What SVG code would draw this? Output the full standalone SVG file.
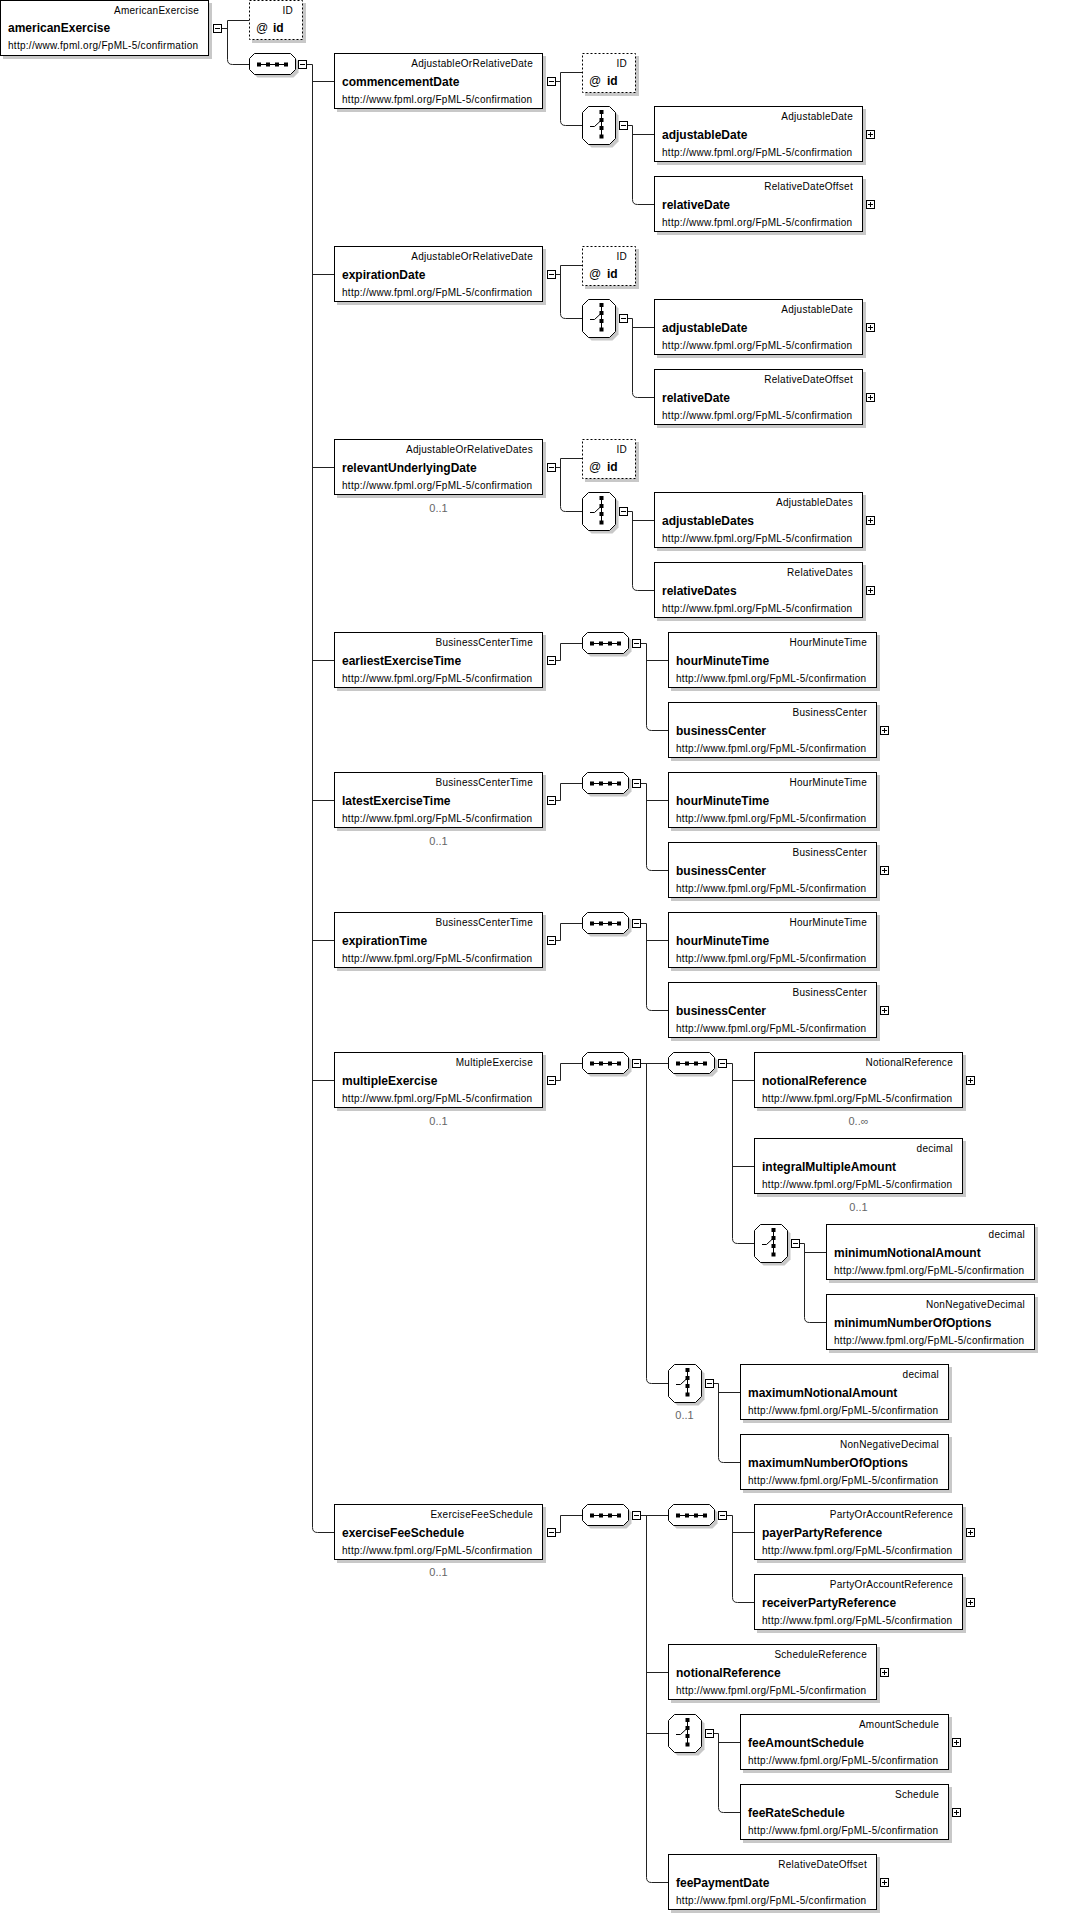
<svg xmlns="http://www.w3.org/2000/svg" width="1076" height="1916" viewBox="0 0 1076 1916">
<style>
.s{fill:#c8c8c8}
.b{fill:#fff;stroke:#000;stroke-width:1}
.a{fill:#fff;stroke:#000;stroke-width:1;stroke-dasharray:2 2}
.ln{fill:none;stroke:#222;stroke-width:1}
text{font-family:"Liberation Sans",Arial,sans-serif;fill:#000}
.t{font-size:10px;letter-spacing:0.28px;text-anchor:end}
.n{font-size:12px;font-weight:bold}
.u{font-size:10px;letter-spacing:0.28px}
.at{font-size:12px}
.o{font-size:11px;fill:#666;text-anchor:middle}
</style>
<defs>
<g id="mi"><rect x="0.5" y="0.5" width="8" height="8" fill="#fff" stroke="#000"/><path d="M2,4.5H7" stroke="#000"/></g>
<g id="pl"><rect x="0.5" y="0.5" width="8" height="8" fill="#fff" stroke="#000"/><path d="M2,4.5H7M4.5,2V7" stroke="#000"/></g>
<g id="seq">
<polygon points="8.5,3.5 44.5,3.5 49.5,8.5 49.5,19.5 44.5,24.5 8.5,24.5 3.5,19.5 3.5,8.5" fill="#c8c8c8"/>
<polygon points="5.5,0.5 41.5,0.5 46.5,5.5 46.5,16.5 41.5,21.5 5.5,21.5 0.5,16.5 0.5,5.5" fill="#fff" stroke="#000"/>
<path d="M8,11.5H39" stroke="#000"/>
<rect x="8" y="9.5" width="4" height="4"/><rect x="17" y="9.5" width="4" height="4"/><rect x="26" y="9.5" width="4" height="4"/><rect x="35" y="9.5" width="4" height="4"/>
</g>
<g id="cho">
<polygon points="9.5,3.5 30.5,3.5 36.5,9.5 36.5,35.5 30.5,41.5 9.5,41.5 3.5,35.5 3.5,9.5" fill="#c8c8c8"/>
<polygon points="6.5,0.5 27.5,0.5 33.5,6.5 33.5,32.5 27.5,38.5 6.5,38.5 0.5,32.5 0.5,6.5" fill="#fff" stroke="#000"/>
<path d="M19.5,6V31M8,20.5H12.5L19.5,14" fill="none" stroke="#000"/>
<rect x="17.5" y="4" width="4" height="4"/><rect x="17.5" y="12" width="4" height="4"/><rect x="17.5" y="20" width="4" height="4"/><rect x="17.5" y="28.5" width="4" height="4"/>
</g>
</defs>
<rect width="1076" height="1916" fill="#fff"/>

<g id="connectors">
<path class="ln" d="M222,28.5H227.5M227.5,20.5H249M227.5,20.5V59.5Q227.5,64.5 232.5,64.5H249"/>
<path class="ln" d="M307,64.5H312.5V1527.5Q312.5,1532.5 317.5,1532.5H334M312.5,81.5H334M312.5,274.5H334M312.5,467.5H334M312.5,660.5H334M312.5,800.5H334M312.5,940.5H334M312.5,1080.5H334"/>
<path class="ln" d="M556,81.5H560.5M560.5,72.5H582M560.5,72.5V120.5Q560.5,125.5 565.5,125.5H582M628,125.5H632.5V199.5Q632.5,204.5 637.5,204.5H654M632.5,134.5H654"/>
<path class="ln" d="M556,274.5H560.5M560.5,265.5H582M560.5,265.5V313.5Q560.5,318.5 565.5,318.5H582M628,318.5H632.5V392.5Q632.5,397.5 637.5,397.5H654M632.5,327.5H654"/>
<path class="ln" d="M556,467.5H560.5M560.5,458.5H582M560.5,458.5V506.5Q560.5,511.5 565.5,511.5H582M628,511.5H632.5V585.5Q632.5,590.5 637.5,590.5H654M632.5,520.5H654"/>
<path class="ln" d="M556,660.5H560.5V643.5H582M641,643.5H646.5V725.5Q646.5,730.5 651.5,730.5H668M646.5,660.5H668"/>
<path class="ln" d="M556,800.5H560.5V783.5H582M641,783.5H646.5V865.5Q646.5,870.5 651.5,870.5H668M646.5,800.5H668"/>
<path class="ln" d="M556,940.5H560.5V923.5H582M641,923.5H646.5V1005.5Q646.5,1010.5 651.5,1010.5H668M646.5,940.5H668"/>
<path class="ln" d="M556,1080.5H560.5V1063.5H582M641,1063.5H668M646.5,1063.5V1378.5Q646.5,1383.5 651.5,1383.5H668M727,1063.5H732.5V1238.5Q732.5,1243.5 737.5,1243.5H754M732.5,1080.5H754M732.5,1166.5H754M800,1243.5H804.5V1317.5Q804.5,1322.5 809.5,1322.5H826M804.5,1252.5H826M714,1383.5H718.5V1457.5Q718.5,1462.5 723.5,1462.5H740M718.5,1392.5H740"/>
<path class="ln" d="M556,1532.5H560.5V1515.5H582M641,1515.5H668M646.5,1515.5V1877.5Q646.5,1882.5 651.5,1882.5H668M646.5,1672.5H668M646.5,1733.5H668M727,1515.5H732.5V1597.5Q732.5,1602.5 737.5,1602.5H754M732.5,1532.5H754M714,1733.5H718.5V1807.5Q718.5,1812.5 723.5,1812.5H740M718.5,1742.5H740"/>
</g>

<g id="americanExercise">
<rect class="s" x="3" y="3" width="209" height="56"/><rect class="b" x="0.5" y="0.5" width="208" height="55"/>
<text class="t" x="199" y="14">AmericanExercise</text><text class="n" x="8" y="32">americanExercise</text><text class="u" x="8" y="49">http://www.fpml.org/FpML-5/confirmation</text>
<use href="#mi" x="213" y="24"/>
</g>
<g id="americanExercise-id">
<rect class="s" x="252" y="3" width="54" height="40"/><rect class="a" x="249.5" y="0.5" width="53" height="39"/>
<text class="t" x="293" y="14">ID</text><text class="at" x="256" y="32">@</text><text class="n" x="273" y="32">id</text>
</g>
<g id="seq-main"><use href="#seq" x="249" y="53"/><use href="#mi" x="298" y="60"/></g>

<g id="commencementDate">
<rect class="s" x="337" y="56" width="209" height="56"/><rect class="b" x="334.5" y="53.5" width="208" height="55"/>
<text class="t" x="533" y="67">AdjustableOrRelativeDate</text><text class="n" x="342" y="86">commencementDate</text><text class="u" x="342" y="103">http://www.fpml.org/FpML-5/confirmation</text>
<use href="#mi" x="547" y="77"/>
</g>
<g id="commencementDate-id">
<rect class="s" x="585" y="56" width="54" height="40"/><rect class="a" x="582.5" y="53.5" width="53" height="39"/>
<text class="t" x="627" y="67">ID</text><text class="at" x="589" y="85">@</text><text class="n" x="607" y="85">id</text>
</g>
<g id="commencementDate-choice"><use href="#cho" x="582" y="106"/><use href="#mi" x="619" y="121"/></g>
<g id="commencementDate-adjustableDate">
<rect class="s" x="657" y="109" width="209" height="56"/><rect class="b" x="654.5" y="106.5" width="208" height="55"/>
<text class="t" x="853" y="120">AdjustableDate</text><text class="n" x="662" y="139">adjustableDate</text><text class="u" x="662" y="156">http://www.fpml.org/FpML-5/confirmation</text>
<use href="#pl" x="866" y="130"/>
</g>
<g id="commencementDate-relativeDate">
<rect class="s" x="657" y="179" width="209" height="56"/><rect class="b" x="654.5" y="176.5" width="208" height="55"/>
<text class="t" x="853" y="190">RelativeDateOffset</text><text class="n" x="662" y="209">relativeDate</text><text class="u" x="662" y="226">http://www.fpml.org/FpML-5/confirmation</text>
<use href="#pl" x="866" y="200"/>
</g>

<g id="expirationDate">
<rect class="s" x="337" y="249" width="209" height="56"/><rect class="b" x="334.5" y="246.5" width="208" height="55"/>
<text class="t" x="533" y="260">AdjustableOrRelativeDate</text><text class="n" x="342" y="279">expirationDate</text><text class="u" x="342" y="296">http://www.fpml.org/FpML-5/confirmation</text>
<use href="#mi" x="547" y="270"/>
</g>
<g id="expirationDate-id">
<rect class="s" x="585" y="249" width="54" height="40"/><rect class="a" x="582.5" y="246.5" width="53" height="39"/>
<text class="t" x="627" y="260">ID</text><text class="at" x="589" y="278">@</text><text class="n" x="607" y="278">id</text>
</g>
<g id="expirationDate-choice"><use href="#cho" x="582" y="299"/><use href="#mi" x="619" y="314"/></g>
<g id="expirationDate-adjustableDate">
<rect class="s" x="657" y="302" width="209" height="56"/><rect class="b" x="654.5" y="299.5" width="208" height="55"/>
<text class="t" x="853" y="313">AdjustableDate</text><text class="n" x="662" y="332">adjustableDate</text><text class="u" x="662" y="349">http://www.fpml.org/FpML-5/confirmation</text>
<use href="#pl" x="866" y="323"/>
</g>
<g id="expirationDate-relativeDate">
<rect class="s" x="657" y="372" width="209" height="56"/><rect class="b" x="654.5" y="369.5" width="208" height="55"/>
<text class="t" x="853" y="383">RelativeDateOffset</text><text class="n" x="662" y="402">relativeDate</text><text class="u" x="662" y="419">http://www.fpml.org/FpML-5/confirmation</text>
<use href="#pl" x="866" y="393"/>
</g>

<g id="relevantUnderlyingDate">
<rect class="s" x="337" y="442" width="209" height="56"/><rect class="b" x="334.5" y="439.5" width="208" height="55"/>
<text class="t" x="533" y="453">AdjustableOrRelativeDates</text><text class="n" x="342" y="472">relevantUnderlyingDate</text><text class="u" x="342" y="489">http://www.fpml.org/FpML-5/confirmation</text>
<use href="#mi" x="547" y="463"/>
<text class="o" x="438.5" y="512">0..1</text>
</g>
<g id="relevantUnderlyingDate-id">
<rect class="s" x="585" y="442" width="54" height="40"/><rect class="a" x="582.5" y="439.5" width="53" height="39"/>
<text class="t" x="627" y="453">ID</text><text class="at" x="589" y="471">@</text><text class="n" x="607" y="471">id</text>
</g>
<g id="relevantUnderlyingDate-choice"><use href="#cho" x="582" y="492"/><use href="#mi" x="619" y="507"/></g>
<g id="adjustableDates">
<rect class="s" x="657" y="495" width="209" height="56"/><rect class="b" x="654.5" y="492.5" width="208" height="55"/>
<text class="t" x="853" y="506">AdjustableDates</text><text class="n" x="662" y="525">adjustableDates</text><text class="u" x="662" y="542">http://www.fpml.org/FpML-5/confirmation</text>
<use href="#pl" x="866" y="516"/>
</g>
<g id="relativeDates">
<rect class="s" x="657" y="565" width="209" height="56"/><rect class="b" x="654.5" y="562.5" width="208" height="55"/>
<text class="t" x="853" y="576">RelativeDates</text><text class="n" x="662" y="595">relativeDates</text><text class="u" x="662" y="612">http://www.fpml.org/FpML-5/confirmation</text>
<use href="#pl" x="866" y="586"/>
</g>

<g id="earliestExerciseTime">
<rect class="s" x="337" y="635" width="209" height="56"/><rect class="b" x="334.5" y="632.5" width="208" height="55"/>
<text class="t" x="533" y="646">BusinessCenterTime</text><text class="n" x="342" y="665">earliestExerciseTime</text><text class="u" x="342" y="682">http://www.fpml.org/FpML-5/confirmation</text>
<use href="#mi" x="547" y="656"/>
</g>
<g id="earliestExerciseTime-seq"><use href="#seq" x="582" y="632"/><use href="#mi" x="632" y="639"/></g>
<g id="earliestExerciseTime-hourMinuteTime">
<rect class="s" x="671" y="635" width="209" height="56"/><rect class="b" x="668.5" y="632.5" width="208" height="55"/>
<text class="t" x="867" y="646">HourMinuteTime</text><text class="n" x="676" y="665">hourMinuteTime</text><text class="u" x="676" y="682">http://www.fpml.org/FpML-5/confirmation</text>
</g>
<g id="earliestExerciseTime-businessCenter">
<rect class="s" x="671" y="705" width="209" height="56"/><rect class="b" x="668.5" y="702.5" width="208" height="55"/>
<text class="t" x="867" y="716">BusinessCenter</text><text class="n" x="676" y="735">businessCenter</text><text class="u" x="676" y="752">http://www.fpml.org/FpML-5/confirmation</text>
<use href="#pl" x="880" y="726"/>
</g>

<g id="latestExerciseTime">
<rect class="s" x="337" y="775" width="209" height="56"/><rect class="b" x="334.5" y="772.5" width="208" height="55"/>
<text class="t" x="533" y="786">BusinessCenterTime</text><text class="n" x="342" y="805">latestExerciseTime</text><text class="u" x="342" y="822">http://www.fpml.org/FpML-5/confirmation</text>
<use href="#mi" x="547" y="796"/>
<text class="o" x="438.5" y="845">0..1</text>
</g>
<g id="latestExerciseTime-seq"><use href="#seq" x="582" y="772"/><use href="#mi" x="632" y="779"/></g>
<g id="latestExerciseTime-hourMinuteTime">
<rect class="s" x="671" y="775" width="209" height="56"/><rect class="b" x="668.5" y="772.5" width="208" height="55"/>
<text class="t" x="867" y="786">HourMinuteTime</text><text class="n" x="676" y="805">hourMinuteTime</text><text class="u" x="676" y="822">http://www.fpml.org/FpML-5/confirmation</text>
</g>
<g id="latestExerciseTime-businessCenter">
<rect class="s" x="671" y="845" width="209" height="56"/><rect class="b" x="668.5" y="842.5" width="208" height="55"/>
<text class="t" x="867" y="856">BusinessCenter</text><text class="n" x="676" y="875">businessCenter</text><text class="u" x="676" y="892">http://www.fpml.org/FpML-5/confirmation</text>
<use href="#pl" x="880" y="866"/>
</g>

<g id="expirationTime">
<rect class="s" x="337" y="915" width="209" height="56"/><rect class="b" x="334.5" y="912.5" width="208" height="55"/>
<text class="t" x="533" y="926">BusinessCenterTime</text><text class="n" x="342" y="945">expirationTime</text><text class="u" x="342" y="962">http://www.fpml.org/FpML-5/confirmation</text>
<use href="#mi" x="547" y="936"/>
</g>
<g id="expirationTime-seq"><use href="#seq" x="582" y="912"/><use href="#mi" x="632" y="919"/></g>
<g id="expirationTime-hourMinuteTime">
<rect class="s" x="671" y="915" width="209" height="56"/><rect class="b" x="668.5" y="912.5" width="208" height="55"/>
<text class="t" x="867" y="926">HourMinuteTime</text><text class="n" x="676" y="945">hourMinuteTime</text><text class="u" x="676" y="962">http://www.fpml.org/FpML-5/confirmation</text>
</g>
<g id="expirationTime-businessCenter">
<rect class="s" x="671" y="985" width="209" height="56"/><rect class="b" x="668.5" y="982.5" width="208" height="55"/>
<text class="t" x="867" y="996">BusinessCenter</text><text class="n" x="676" y="1015">businessCenter</text><text class="u" x="676" y="1032">http://www.fpml.org/FpML-5/confirmation</text>
<use href="#pl" x="880" y="1006"/>
</g>

<g id="multipleExercise">
<rect class="s" x="337" y="1055" width="209" height="56"/><rect class="b" x="334.5" y="1052.5" width="208" height="55"/>
<text class="t" x="533" y="1066">MultipleExercise</text><text class="n" x="342" y="1085">multipleExercise</text><text class="u" x="342" y="1102">http://www.fpml.org/FpML-5/confirmation</text>
<use href="#mi" x="547" y="1076"/>
<text class="o" x="438.5" y="1125">0..1</text>
</g>
<g id="multipleExercise-seq"><use href="#seq" x="582" y="1052"/><use href="#mi" x="632" y="1059"/></g>
<g id="multipleExercise-seq2"><use href="#seq" x="668" y="1052"/><use href="#mi" x="718" y="1059"/></g>
<g id="multipleExercise-notionalReference">
<rect class="s" x="757" y="1055" width="209" height="56"/><rect class="b" x="754.5" y="1052.5" width="208" height="55"/>
<text class="t" x="953" y="1066">NotionalReference</text><text class="n" x="762" y="1085">notionalReference</text><text class="u" x="762" y="1102">http://www.fpml.org/FpML-5/confirmation</text>
<use href="#pl" x="966" y="1076"/>
<text class="o" x="858.5" y="1125">0..∞</text>
</g>
<g id="integralMultipleAmount">
<rect class="s" x="757" y="1141" width="209" height="56"/><rect class="b" x="754.5" y="1138.5" width="208" height="55"/>
<text class="t" x="953" y="1152">decimal</text><text class="n" x="762" y="1171">integralMultipleAmount</text><text class="u" x="762" y="1188">http://www.fpml.org/FpML-5/confirmation</text>
<text class="o" x="858.5" y="1211">0..1</text>
</g>
<g id="minimum-choice"><use href="#cho" x="754" y="1224"/><use href="#mi" x="791" y="1239"/></g>
<g id="minimumNotionalAmount">
<rect class="s" x="829" y="1227" width="209" height="56"/><rect class="b" x="826.5" y="1224.5" width="208" height="55"/>
<text class="t" x="1025" y="1238">decimal</text><text class="n" x="834" y="1257">minimumNotionalAmount</text><text class="u" x="834" y="1274">http://www.fpml.org/FpML-5/confirmation</text>
</g>
<g id="minimumNumberOfOptions">
<rect class="s" x="829" y="1297" width="209" height="56"/><rect class="b" x="826.5" y="1294.5" width="208" height="55"/>
<text class="t" x="1025" y="1308">NonNegativeDecimal</text><text class="n" x="834" y="1327">minimumNumberOfOptions</text><text class="u" x="834" y="1344">http://www.fpml.org/FpML-5/confirmation</text>
</g>
<g id="maximum-choice"><use href="#cho" x="668" y="1364"/><use href="#mi" x="705" y="1379"/><text class="o" x="684.5" y="1419">0..1</text></g>
<g id="maximumNotionalAmount">
<rect class="s" x="743" y="1367" width="209" height="56"/><rect class="b" x="740.5" y="1364.5" width="208" height="55"/>
<text class="t" x="939" y="1378">decimal</text><text class="n" x="748" y="1397">maximumNotionalAmount</text><text class="u" x="748" y="1414">http://www.fpml.org/FpML-5/confirmation</text>
</g>
<g id="maximumNumberOfOptions">
<rect class="s" x="743" y="1437" width="209" height="56"/><rect class="b" x="740.5" y="1434.5" width="208" height="55"/>
<text class="t" x="939" y="1448">NonNegativeDecimal</text><text class="n" x="748" y="1467">maximumNumberOfOptions</text><text class="u" x="748" y="1484">http://www.fpml.org/FpML-5/confirmation</text>
</g>

<g id="exerciseFeeSchedule">
<rect class="s" x="337" y="1507" width="209" height="56"/><rect class="b" x="334.5" y="1504.5" width="208" height="55"/>
<text class="t" x="533" y="1518">ExerciseFeeSchedule</text><text class="n" x="342" y="1537">exerciseFeeSchedule</text><text class="u" x="342" y="1554">http://www.fpml.org/FpML-5/confirmation</text>
<use href="#mi" x="547" y="1528"/>
<text class="o" x="438.5" y="1576">0..1</text>
</g>
<g id="exerciseFeeSchedule-seq"><use href="#seq" x="582" y="1504"/><use href="#mi" x="632" y="1511"/></g>
<g id="exerciseFeeSchedule-seq2"><use href="#seq" x="668" y="1504"/><use href="#mi" x="718" y="1511"/></g>
<g id="payerPartyReference">
<rect class="s" x="757" y="1507" width="209" height="56"/><rect class="b" x="754.5" y="1504.5" width="208" height="55"/>
<text class="t" x="953" y="1518">PartyOrAccountReference</text><text class="n" x="762" y="1537">payerPartyReference</text><text class="u" x="762" y="1554">http://www.fpml.org/FpML-5/confirmation</text>
<use href="#pl" x="966" y="1528"/>
</g>
<g id="receiverPartyReference">
<rect class="s" x="757" y="1577" width="209" height="56"/><rect class="b" x="754.5" y="1574.5" width="208" height="55"/>
<text class="t" x="953" y="1588">PartyOrAccountReference</text><text class="n" x="762" y="1607">receiverPartyReference</text><text class="u" x="762" y="1624">http://www.fpml.org/FpML-5/confirmation</text>
<use href="#pl" x="966" y="1598"/>
</g>
<g id="exerciseFeeSchedule-notionalReference">
<rect class="s" x="671" y="1647" width="209" height="56"/><rect class="b" x="668.5" y="1644.5" width="208" height="55"/>
<text class="t" x="867" y="1658">ScheduleReference</text><text class="n" x="676" y="1677">notionalReference</text><text class="u" x="676" y="1694">http://www.fpml.org/FpML-5/confirmation</text>
<use href="#pl" x="880" y="1668"/>
</g>
<g id="fee-choice"><use href="#cho" x="668" y="1714"/><use href="#mi" x="705" y="1729"/></g>
<g id="feeAmountSchedule">
<rect class="s" x="743" y="1717" width="209" height="56"/><rect class="b" x="740.5" y="1714.5" width="208" height="55"/>
<text class="t" x="939" y="1728">AmountSchedule</text><text class="n" x="748" y="1747">feeAmountSchedule</text><text class="u" x="748" y="1764">http://www.fpml.org/FpML-5/confirmation</text>
<use href="#pl" x="952" y="1738"/>
</g>
<g id="feeRateSchedule">
<rect class="s" x="743" y="1787" width="209" height="56"/><rect class="b" x="740.5" y="1784.5" width="208" height="55"/>
<text class="t" x="939" y="1798">Schedule</text><text class="n" x="748" y="1817">feeRateSchedule</text><text class="u" x="748" y="1834">http://www.fpml.org/FpML-5/confirmation</text>
<use href="#pl" x="952" y="1808"/>
</g>
<g id="feePaymentDate">
<rect class="s" x="671" y="1857" width="209" height="56"/><rect class="b" x="668.5" y="1854.5" width="208" height="55"/>
<text class="t" x="867" y="1868">RelativeDateOffset</text><text class="n" x="676" y="1887">feePaymentDate</text><text class="u" x="676" y="1904">http://www.fpml.org/FpML-5/confirmation</text>
<use href="#pl" x="880" y="1878"/>
</g>
</svg>
